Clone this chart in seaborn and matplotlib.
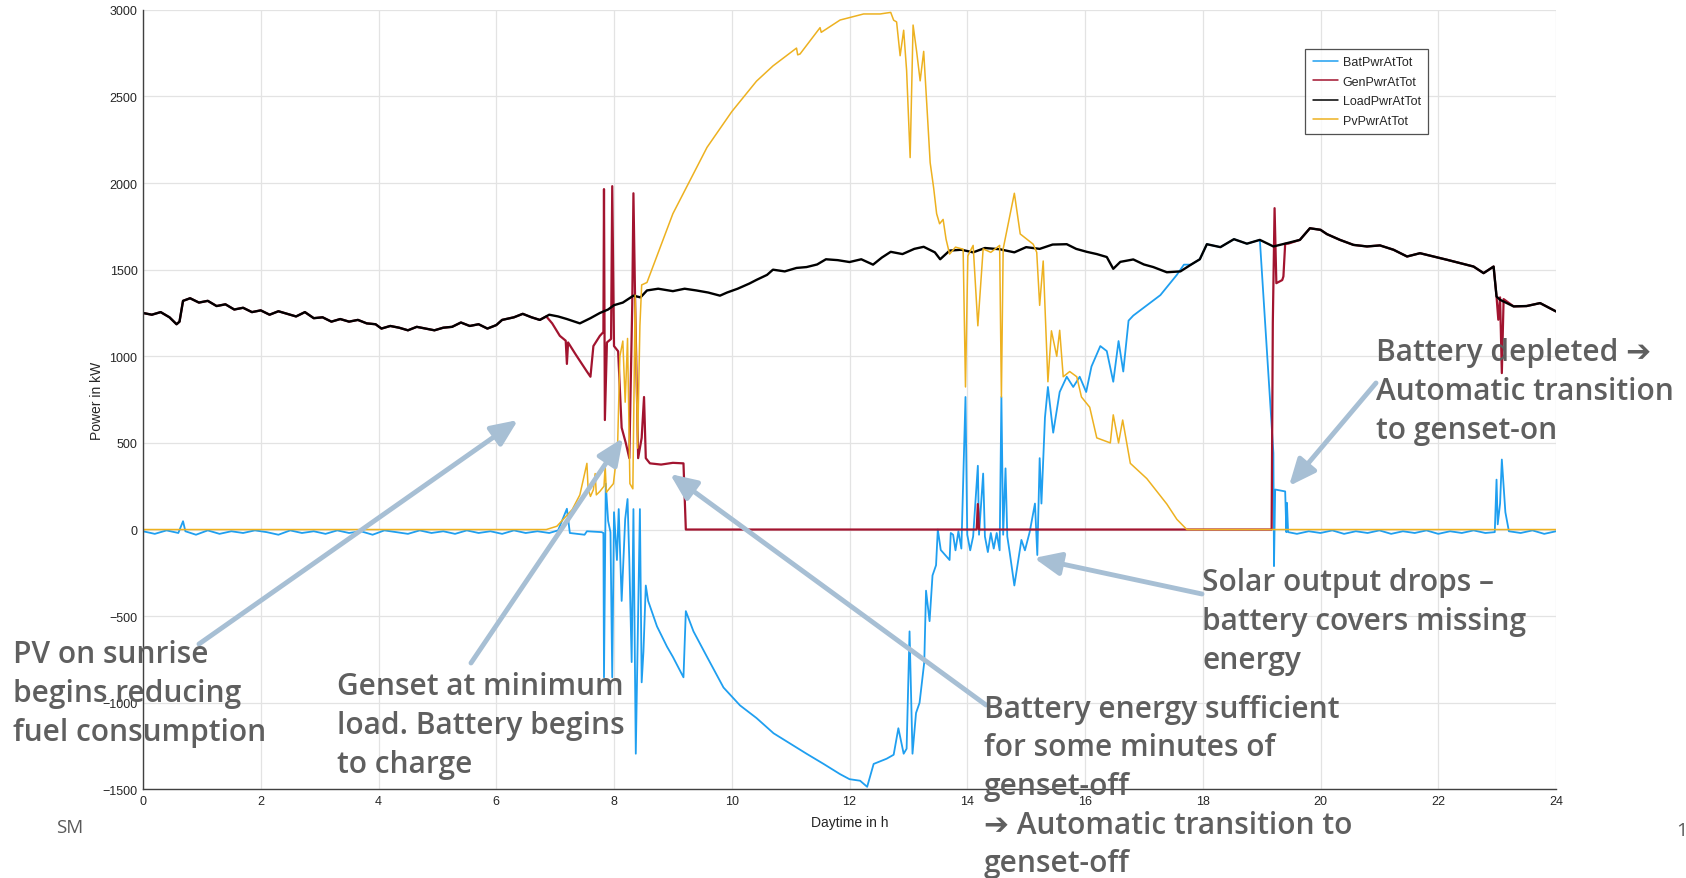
import numpy as np
import matplotlib
matplotlib.use("Agg")
import matplotlib.pyplot as plt
import seaborn as sns

# ---- Load power (kW) over the day (h) ----
LOAD_T = [0.0, 0.15, 0.3, 0.45, 0.57, 0.62, 0.68, 0.8, 0.95, 1.1, 1.25, 1.4, 1.55, 1.7, 1.85,
          2.0, 2.15, 2.3, 2.45, 2.6, 2.75, 2.9, 3.05, 3.2, 3.35, 3.5, 3.65, 3.8, 3.95, 4.05,
          4.2, 4.35, 4.5, 4.65, 4.8, 4.95, 5.1, 5.25, 5.4, 5.55, 5.7, 5.85, 6.0, 6.1, 6.3,
          6.45, 6.6, 6.74, 6.9, 7.05, 7.2, 7.42, 7.6, 7.76, 7.9, 8.0, 8.15, 8.33, 8.45, 8.56,
          8.75, 9.0, 9.2, 9.4, 9.6, 9.8, 9.92, 10.1, 10.3, 10.42, 10.6, 10.7, 10.9, 11.1, 11.27,
          11.45, 11.6, 11.8, 12.0, 12.2, 12.4, 12.55, 12.7, 12.9, 13.1, 13.26, 13.45, 13.54, 13.7,
          13.9, 14.1, 14.3, 14.55, 14.8, 15.0, 15.23, 15.45, 15.69, 15.85, 16.03, 16.2, 16.37,
          16.48, 16.6, 16.82, 17.0, 17.16, 17.39, 17.62, 17.8, 17.95, 18.07, 18.3, 18.53, 18.75,
          18.97, 19.2, 19.43, 19.65, 19.82, 20.0, 20.11, 20.33, 20.56, 20.79, 21.01, 21.24,
          21.47, 21.69, 21.92, 22.15, 22.37, 22.6, 22.77, 22.94, 22.99, 23.05, 23.28, 23.5,
          23.73, 24.0]
LOAD_V = [1250, 1240, 1255, 1225, 1185, 1200, 1320, 1335, 1310, 1320, 1290, 1300, 1270, 1280, 1255,
          1265, 1240, 1260, 1245, 1230, 1255, 1220, 1225, 1200, 1215, 1200, 1210, 1190, 1185, 1160,
          1175, 1165, 1150, 1170, 1160, 1150, 1165, 1170, 1195, 1175, 1185, 1160, 1180, 1210, 1225,
          1245, 1225, 1210, 1240, 1230, 1215, 1190, 1220, 1250, 1270, 1295, 1310, 1350, 1340, 1380,
          1390, 1376, 1390, 1380, 1368, 1350, 1368, 1390, 1420, 1441, 1470, 1500, 1490, 1510, 1515,
          1530, 1560, 1555, 1544, 1560, 1529, 1570, 1603, 1590, 1620, 1632, 1600, 1560, 1610,
          1615, 1600, 1625, 1618, 1600, 1630, 1620, 1645, 1647, 1620, 1603, 1590, 1573,
          1505, 1545, 1559, 1530, 1515, 1485, 1490, 1529, 1560, 1647, 1630, 1676, 1650,
          1672, 1634, 1653, 1672, 1739, 1730, 1705, 1672, 1643, 1634, 1640, 1615,
          1576, 1595, 1576, 1557, 1538, 1518, 1480, 1518, 1345, 1326, 1288, 1290,
          1307, 1259]

# ---- Genset power while it deviates from the load (morning ramp-down, off, restart) ----
GEN_MID_T = [6.85, 6.95, 7.08, 7.18, 7.2, 7.22, 7.35, 7.54, 7.6, 7.65, 7.76, 7.82, 7.83, 7.845,
             7.88, 7.95, 7.97, 8.0, 8.07, 8.13, 8.2, 8.26, 8.31, 8.33, 8.36, 8.41, 8.47, 8.51,
             8.54, 8.61, 8.8, 9.0, 9.18, 9.22, 14.16, 14.18, 14.2, 19.17, 19.19, 19.22, 19.25,
             19.35, 19.37, 19.4, 19.45]
GEN_MID_V = [1230, 1190, 1118, 1090, 956, 1080, 1010, 912, 882, 1059, 1118, 1140, 1965, 632,
             1080, 1100, 1982, 1059, 1029, 588, 500, 412, 1300, 1941, 1294, 412, 529, 765,
             412, 382, 375, 385, 382, 0, 0, 147, 0, 0, 1192, 1855, 1422,
             1440, 1461, 1650, 1650]
# short genset dip at the late-evening load step
GEN_DIP_T = [23.02, 23.05, 23.08, 23.11]
GEN_DIP_V = [1211, 1340, 903, 1330]

# ---- PV power ----
PV_T = [0.0, 6.85, 7.03, 7.29, 7.42, 7.54, 7.56, 7.6, 7.65, 7.68, 7.7, 7.76, 7.83, 7.85, 7.87,
        7.99, 8.06, 8.1, 8.15, 8.19, 8.23, 8.27, 8.32, 8.36, 8.4, 8.44, 8.47, 8.56, 9.0, 9.58,
        10.0, 10.42, 10.7, 11.1, 11.12, 11.16, 11.5, 11.52, 11.84, 12.24, 12.52, 12.7, 12.75,
        12.8, 12.86, 12.92, 12.97, 13.03, 13.08, 13.14, 13.2, 13.26, 13.32, 13.37, 13.43, 13.48,
        13.53, 13.59, 13.64, 13.7, 13.8, 13.93, 13.97, 14.01, 14.1, 14.18, 14.27, 14.4, 14.55,
        14.58, 14.61, 14.8, 14.9, 15.12, 15.18, 15.23, 15.29, 15.37, 15.43, 15.52, 15.57, 15.63,
        15.74, 15.86, 15.94, 16.08, 16.2, 16.43, 16.48, 16.57, 16.64, 16.77, 17.05, 17.39, 17.56,
        17.73, 24.0]
PV_V = [0, 0, 19, 115, 200, 382, 235, 191, 230, 323, 200, 220, 250, 368, 215,
        265, 470, 1000, 1088, 735, 1103, 265, 235, 1353, 470, 1176, 1412, 1426, 1823, 2206,
        2412, 2588, 2676, 2779, 2740, 2745, 2897, 2870, 2941, 2976, 2976, 2985, 2940,
        2930, 2735, 2882, 2650, 2147, 2912, 2760, 2590, 2760, 2412, 2118, 1970, 1823,
        1765, 1790, 1676, 1590, 1630, 1618, 823, 1580, 1640, 1176, 1620, 1600, 1640,
        765, 1620, 1941, 1706, 1647, 1600, 1294, 1550, 853, 1147, 1000, 1150, 882,
        912, 882, 765, 706, 529, 500, 662, 500, 632, 382, 294, 147, 59,
        0, 0]

# ---- Battery power: night/morning, daytime charge + evening discharge ----
BAT_A_T = [0.0, 0.2, 0.4, 0.6, 0.68, 0.72, 0.9, 1.1, 1.3, 1.5, 1.7, 1.9, 2.1, 2.3, 2.5, 2.7,
           2.9, 3.1, 3.3, 3.5, 3.7, 3.9, 4.1, 4.3, 4.5, 4.7, 4.9, 5.1, 5.3, 5.5, 5.7, 5.9, 6.1,
           6.3, 6.5, 6.7, 6.9, 7.05, 7.2, 7.25, 7.5, 7.54, 7.79, 7.82, 7.83, 7.86, 7.9, 7.94,
           7.97, 8.0, 8.05, 8.08, 8.13, 8.19, 8.23, 8.26, 8.3, 8.33, 8.37, 8.41, 8.44, 8.47, 8.5,
           8.54, 8.58, 8.73, 8.9, 9.0, 9.18, 9.22, 9.35, 9.58, 9.86, 10.14, 10.42, 10.71, 10.99,
           11.27, 11.56, 11.84, 12.0, 12.18, 12.3, 12.41, 12.63, 12.75, 12.83, 12.92, 12.97,
           13.02, 13.07, 13.13, 13.19, 13.27, 13.3, 13.36, 13.41, 13.47, 13.5, 13.55, 13.7,
           13.72, 13.76, 13.8, 13.85, 13.9, 13.97, 14.0, 14.05, 14.1, 14.18, 14.2, 14.27, 14.3,
           14.35, 14.4, 14.45, 14.5, 14.55, 14.58, 14.61, 14.65, 14.68, 14.72, 14.8, 14.92,
           14.98, 15.06, 15.15, 15.19, 15.23, 15.26, 15.32, 15.37, 15.46, 15.57, 15.69, 15.8,
           15.91, 16.02, 16.11, 16.26, 16.37, 16.48, 16.57, 16.65, 16.74, 16.82, 17.05, 17.28,
           17.56, 17.68]
BAT_A_V = [-10, -25, -5, -20, 48, -10, -30, -5, -25, -10, -20, -5, -15, -30, -5, -20,
           -10, -25, -5, -20, -10, -30, -5, -15, -25, -5, -20, -10, -25, -5, -20, -10, -25,
           -5, -20, -10, -20, -5, 120, -20, -30, -10, -15, -20, -853, 265, 50, -15,
           -853, 100, -176, 118, -412, 60, 176, -176, -765, 118, -1294, -471, 118, -882, -706,
           -323, -412, -559, -676, -735, -853, -471, -588, -735, -912, -1015, -1088, -1176, -1235,
           -1294, -1353, -1412, -1441, -1450, -1485, -1353, -1323, -1300, -1147, -1294, -1265,
           -588, -1294, -1059, -1000, -765, -353, -529, -265, -206, 0, -118, -176,
           -20, -30, -120, -10, -110, 765, -30, -120, -40, 368, -30, 323, -40,
           -130, -20, -110, -20, -120, 765, -30, 353, -40, -130, -323, -60,
           -120, -15, 150, -147, 412, 150, 647, 823, 559, 794, 882, 823,
           882, 794, 941, 1059, 1030, 853, 1088, 912, 1206, 1235, 1294, 1353,
           1470, 1529]
BAT_B_T = [19.2, 19.21, 19.23, 19.4, 19.42, 19.43, 19.45, 19.6, 19.8, 20.0, 20.2, 20.4, 20.6,
           20.8, 21.0, 21.2, 21.4, 21.6, 21.8, 22.0, 22.2, 22.4, 22.6, 22.8, 22.96, 22.99, 23.01,
           23.05, 23.08, 23.14, 23.2, 23.4, 23.6, 23.8, 24.0]
BAT_B_V = [442, -211, 231, 220, -15, 154, -15, -25, -10, -20, -5, -25, -10,
           -20, -5, -25, -10, -20, -5, -25, -10, -20, -5, -20, -15, 288, 30,
           150, 404, 100, -10, -20, -5, -25, -10]

SERIES_NAMES = ["BatPwrAtTot", "GenPwrAtTot", "LoadPwrAtTot", "PvPwrAtTot"]
SERIES_COLORS = ["#1f9ff0", "#a2142f", "#000000", "#edb120"]

load_t = np.array(LOAD_T, float)
load_v = np.array(LOAD_V, float)

# genset carries the whole load except during the listed intervals
gen_t = np.concatenate([load_t[load_t < 6.85], GEN_MID_T,
                        load_t[(load_t > 19.45) & (load_t < 23.0)], GEN_DIP_T,
                        load_t[load_t > 23.11]])
gen_v = np.concatenate([load_v[load_t < 6.85], GEN_MID_V,
                        load_v[(load_t > 19.45) & (load_t < 23.0)], GEN_DIP_V,
                        load_v[load_t > 23.11]])
# with genset and PV both off, the battery supplies the load
sel = (load_t > 17.68) & (load_t < 19.2)
bat_t = np.concatenate([BAT_A_T, load_t[sel], BAT_B_T])
bat_v = np.concatenate([BAT_A_V, load_v[sel], BAT_B_V])

sns.set_style("whitegrid")
plt.rcParams["font.family"] = ["Liberation Sans", "DejaVu Sans"]

W, H = 1686, 879
fig = plt.figure(figsize=(W / 100, H / 100), dpi=100)
ax = fig.add_axes([143 / W, 1 - 790.4 / H, 1413 / W, 779.6 / H])

series = [(bat_t, bat_v, 1.3), (gen_t, gen_v, 1.6), (load_t, load_v, 1.7),
          (np.array(PV_T), np.array(PV_V), 1.1)]
for (t, v, lw), name, col in zip(series, SERIES_NAMES, SERIES_COLORS):
    sns.lineplot(x=t, y=v, ax=ax, color=col, linewidth=lw, label=name,
                 estimator=None, sort=False)

ax.set_xlim(0, 24)
ax.set_ylim(-1500, 3000)
ax.set_xticks(np.arange(0, 25, 2))
ax.set_yticks(np.arange(-1500, 3001, 500))
ax.grid(True, color="#e3e3e3", linewidth=0.9)
for side in ("top", "right"):
    ax.spines[side].set_visible(False)
for side in ("left", "bottom"):
    ax.spines[side].set_color("#404040")
    ax.spines[side].set_linewidth(1.0)
ax.tick_params(axis="both", direction="in", length=10, width=0.9, color="#404040",
               labelsize=9, labelcolor="#262626", pad=4)
ax.set_xlabel("Daytime in h", fontsize=10, color="#262626", labelpad=6)
ax.set_ylabel("Power in kW", fontsize=10, color="#262626", labelpad=-1)

leg = ax.legend(loc="upper left", bbox_to_anchor=(0.818, 0.958), frameon=True,
                fancybox=False, fontsize=9, handlelength=2.0, borderpad=0.6,
                labelspacing=0.6, handletextpad=0.4)
leg.get_frame().set_edgecolor("#262626")
leg.get_frame().set_linewidth(0.9)
for line in leg.get_lines():
    line.set_linewidth(1.1)


def fx(px):
    return px / W


def fy(py):
    return 1 - py / H


TXT = dict(ha="left", va="center", fontsize=21.5, fontweight="semibold", color="#5f5f5f",
           family=["Open Sans", "DejaVu Sans"], linespacing=1.38)
ARROW = dict(arrowstyle="-|>,head_length=0.8,head_width=0.35", color="#a7bfd4", lw=3.5,
             mutation_scale=20, shrinkA=0, shrinkB=0)

notes = [
    ("PV on sunrise\nbegins reducing\nfuel consumption", 13, 694, (199, 645), (518, 421)),
    ("Genset at minimum\nload. Battery begins\nto charge", 337, 726, (471, 664), (623, 439)),
    ("Battery energy sufficient\nfor some minutes of\ngenset-off\n\u2794 Automatic transition to\ngenset-off",
     984, 787, (986, 706), (670, 475)),
    ("Solar output drops \u2013\nbattery covers missing\nenergy", 1202, 622, (1202, 595), (1034, 559)),
    ("Battery depleted \u2794\nAutomatic transition\nto genset-on", 1376, 392, (1376, 384), (1289, 487)),
]
for text, lx, cy, tail, head in notes:
    fig.text(fx(lx), fy(cy), text, **TXT)
    ax.annotate("", xy=(fx(head[0]), fy(head[1])), xytext=(fx(tail[0]), fy(tail[1])),
                xycoords="figure fraction", textcoords="figure fraction",
                arrowprops=ARROW, annotation_clip=False)

fig.text(fx(56), fy(828), "SM", ha="left", va="center", fontsize=13.5, color="#595959",
         family=["Open Sans", "DejaVu Sans"])
fig.text(fx(1676), fy(831), "1", ha="left", va="center", fontsize=14, color="#595959",
         family=["Open Sans", "DejaVu Sans"])

fig.savefig("out.png", dpi=100)
